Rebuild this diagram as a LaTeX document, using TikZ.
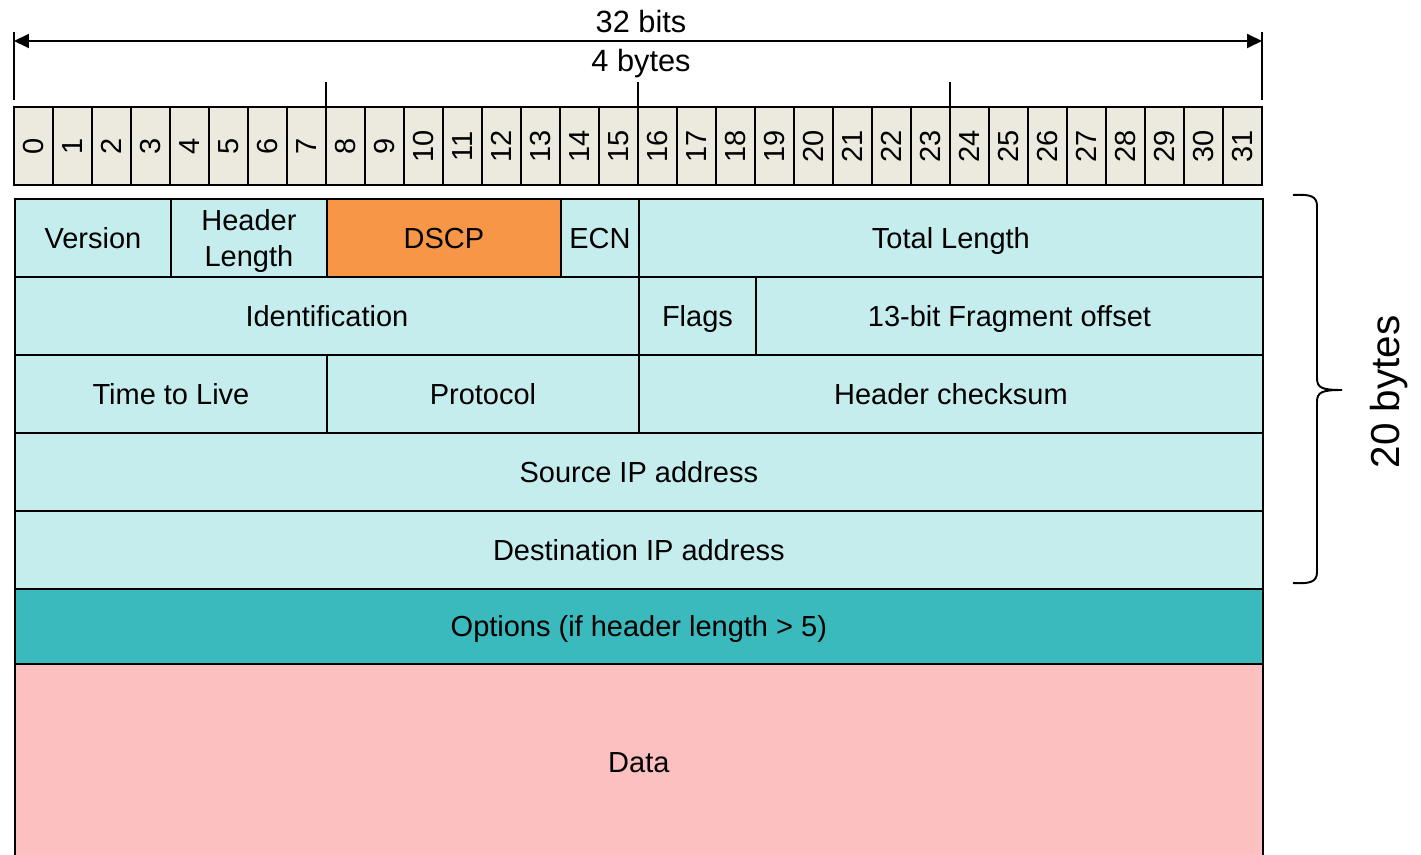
\documentclass[tikz,border=0pt]{standalone}
\usepackage{fontspec}
\setmainfont{Liberation Sans}
\usetikzlibrary{arrows.meta}
\definecolor{bitgray}{HTML}{ECEADF}
\definecolor{hdrcyan}{HTML}{C5EDED}
\definecolor{dscporange}{HTML}{F79646}
\definecolor{optteal}{HTML}{3ABABD}
\definecolor{datapink}{HTML}{FDC0C1}
\begin{document}
\begin{tikzpicture}[x=0.02cm,y=-0.02cm,line width=1.1pt,
  field/.style={draw,fill=hdrcyan,inner sep=0pt,anchor=north west,minimum height=1.56cm,
    align=center,text depth=0pt,font=\fontsize{16.5}{20.5}\selectfont},
  bitbox/.style={draw,fill=bitgray,inner sep=0pt,minimum width=0.78cm,minimum height=1.56cm,
    font=\fontsize{16.5}{20}\selectfont},
  tip/.style={Triangle[length=0.3cm,width=0.28cm]}]
  \useasboundingbox (0,0) rectangle (1421,855);
  % width of the word
  \coordinate (wl) at (14,41);
  \coordinate (wr) at (1262,41);
  \draw[{Triangle[length=0.3cm,width=0.28cm]}-{Triangle[length=0.3cm,width=0.28cm]}] (wl) -- (wr);
  \draw (14,32) -- (14,100);
  \draw (1262,32) -- (1262,100);
  \node[font=\fontsize{17.5}{20}\selectfont] (bits) at (641,22) {32 bits};
  \node[font=\fontsize{17.5}{20}\selectfont,text depth=0pt] (bytes) at (641,60) {4 bytes};
  \foreach \x in {326,638,950}
    \draw (\x,82) -- (\x,107);
  % bit numbers
  \foreach \i in {0,...,31}
    \node[bitbox] (bit\i) at ({33.5+39*\i},146) {\rotatebox{90}{\i}};
  % header fields
  \node[field,minimum width=4*0.78cm] (version) at (14,198) {Version};
  \node[field,minimum width=4*0.78cm] (hlen) at (170,198) {Header\\Length};
  \node[field,fill=dscporange,minimum width=6*0.78cm] (dscp) at (326,198) {DSCP};
  \node[field,minimum width=2*0.78cm] (ecn) at (560,198) {ECN};
  \node[field,minimum width=16*0.78cm] (totlen) at (638,198) {Total Length};
  \node[field,minimum width=16*0.78cm] (ident) at (14,276) {Identification};
  \node[field,minimum width=3*0.78cm] (flags) at (638,276) {Flags};
  \node[field,minimum width=13*0.78cm] (fragoff) at (755,276) {13-bit Fragment offset};
  \node[field,minimum width=8*0.78cm] (ttl) at (14,354) {Time to Live};
  \node[field,minimum width=8*0.78cm] (proto) at (326,354) {Protocol};
  \node[field,minimum width=16*0.78cm] (chksum) at (638,354) {Header checksum};
  \node[field,minimum width=32*0.78cm] (srcip) at (14,432) {Source IP address};
  \node[field,minimum width=32*0.78cm] (dstip) at (14,510) {Destination IP address};
  \node[field,fill=optteal,minimum width=32*0.78cm,minimum height=1.5cm] (options) at (14,588) {Options (if header length > 5)};
  \node[field,fill=datapink,minimum width=32*0.78cm,minimum height=3.96cm] (data) at (14,663) {Data};
  % fixed part
  \draw (1293,195) .. controls (1310,194) and (1317,196) .. (1317,206) -- (1317,378)
    .. controls (1317,388) and (1322,390) .. (1342,390)
    .. controls (1322,390) and (1317,392) .. (1317,402) -- (1317,572)
    .. controls (1317,582) and (1310,584) .. (1293,583);
  \node[rotate=90,font=\fontsize{23}{26}\selectfont] (twenty) at (1389,392) {20 bytes};
\end{tikzpicture}
\end{document}
